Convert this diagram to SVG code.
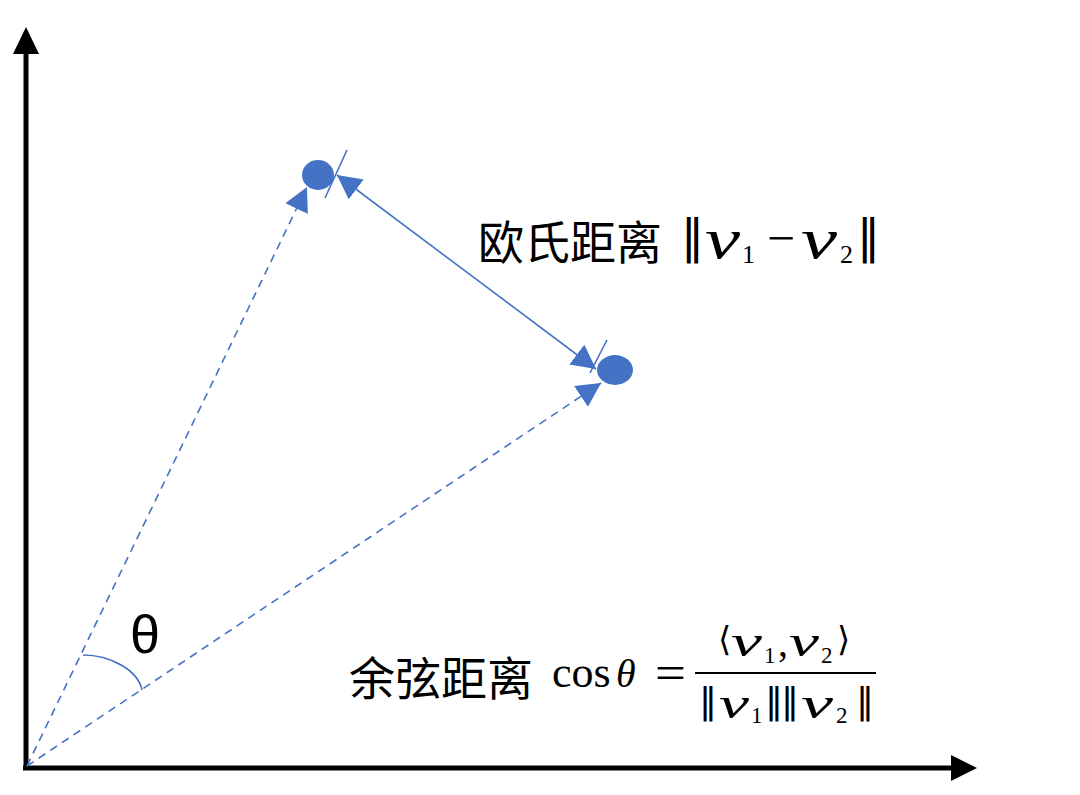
<svg xmlns="http://www.w3.org/2000/svg" width="1080" height="795" viewBox="0 0 1080 795">
<style>
.axis{stroke:#000;stroke-width:5;fill:none}
.dash{stroke:#4472C4;stroke-width:1.6;stroke-dasharray:8,6;fill:none}
.solid{stroke:#4472C4;stroke-width:1.6;fill:none}
.cjk{font-family:"Noto Sans CJK SC","Noto Sans",sans-serif;font-size:46px;fill:#000}
.m{font-family:"Liberation Serif",serif;fill:#000}
.mi{font-family:"Liberation Serif",serif;font-style:italic;fill:#000}
.sym{font-family:"DejaVu Sans",sans-serif;fill:#000}
</style>
<defs>
<marker id="ah" viewBox="0 0 24 25" refX="24" refY="12.5" markerWidth="24" markerHeight="25" markerUnits="userSpaceOnUse" orient="auto-start-reverse">
<path d="M0,0 L24,12.5 L0,25 z" fill="#4472C4"/>
</marker>
</defs>
<rect width="1080" height="795" fill="#fff"/>
<g id="axes">
<line class="axis" x1="26" y1="770" x2="26" y2="50"/>
<polygon points="26,27 13,54 39,54" fill="#000"/>
<line class="axis" x1="23" y1="768" x2="955" y2="768"/>
<polygon points="977,768 951,755 951,781" fill="#000"/>
</g>
<g id="connectors">
<line class="dash" x1="27" y1="766" x2="307" y2="187" marker-end="url(#ah)"/>
<line class="dash" x1="27" y1="766" x2="601" y2="383" marker-end="url(#ah)"/>
<line class="solid" x1="337" y1="175" x2="596" y2="369" marker-start="url(#ah)" marker-end="url(#ah)"/>
<line class="solid" x1="347" y1="150" x2="325" y2="198"/>
<line class="solid" x1="607" y1="340" x2="590" y2="373"/>
<path class="solid" d="M83,655 C110,655 138,670 142,690"/>
</g>
<g id="point1"><ellipse cx="318" cy="175" rx="16" ry="15" fill="#4472C4"/></g>
<g id="point2"><ellipse cx="615" cy="370" rx="18" ry="15" fill="#4472C4"/></g>
<g id="theta-label"><text x="130" y="653" font-family="Liberation Sans,sans-serif" font-size="54">θ</text></g>
<g id="euclid-label">
<text class="cjk" x="478" y="259">欧氏距离</text>
<text class="sym" x="681" y="252" font-size="46">‖</text>
<text class="mi" x="705" y="258" font-size="56" textLength="35" lengthAdjust="spacingAndGlyphs">v</text>
<text class="m" x="742" y="263" font-size="26">1</text>
<text class="m" x="767" y="255" font-size="50" textLength="28" lengthAdjust="spacingAndGlyphs">−</text>
<text class="mi" x="801" y="258" font-size="56" textLength="36" lengthAdjust="spacingAndGlyphs">v</text>
<text class="m" x="840" y="263" font-size="26">2</text>
<text class="sym" x="857" y="252" font-size="46">‖</text>
</g>
<g id="cosine-label">
<text class="cjk" x="349" y="695">余弦距离</text>
<text class="m" x="552" y="687" font-size="44">cos</text>
<text class="mi" x="616" y="687" font-size="40">θ</text>
<text class="m" x="655" y="689" font-size="48" textLength="31" lengthAdjust="spacingAndGlyphs">=</text>
<line x1="695" y1="673" x2="876" y2="673" stroke="#000" stroke-width="2"/>
<text class="sym" x="718" y="651" font-size="34">⟨</text>
<text class="mi" x="731" y="656" font-size="44" textLength="31" lengthAdjust="spacingAndGlyphs">v</text>
<text class="m" x="764" y="663" font-size="23">1</text>
<text class="m" x="778" y="656" font-size="40">,</text>
<text class="mi" x="789" y="656" font-size="44" textLength="30" lengthAdjust="spacingAndGlyphs">v</text>
<text class="m" x="821" y="663" font-size="23">2</text>
<text class="sym" x="837" y="651" font-size="34">⟩</text>
<text class="sym" x="699" y="713" font-size="36">‖</text>
<text class="mi" x="719" y="718" font-size="44" textLength="30" lengthAdjust="spacingAndGlyphs">v</text>
<text class="m" x="751" y="723" font-size="23">1</text>
<text class="sym" x="765" y="713" font-size="36" textLength="34" lengthAdjust="spacing">‖‖</text>
<text class="mi" x="801" y="718" font-size="44" textLength="32" lengthAdjust="spacingAndGlyphs">v</text>
<text class="m" x="836" y="723" font-size="23">2</text>
<text class="sym" x="856" y="713" font-size="36">‖</text>
</g>
</svg>
